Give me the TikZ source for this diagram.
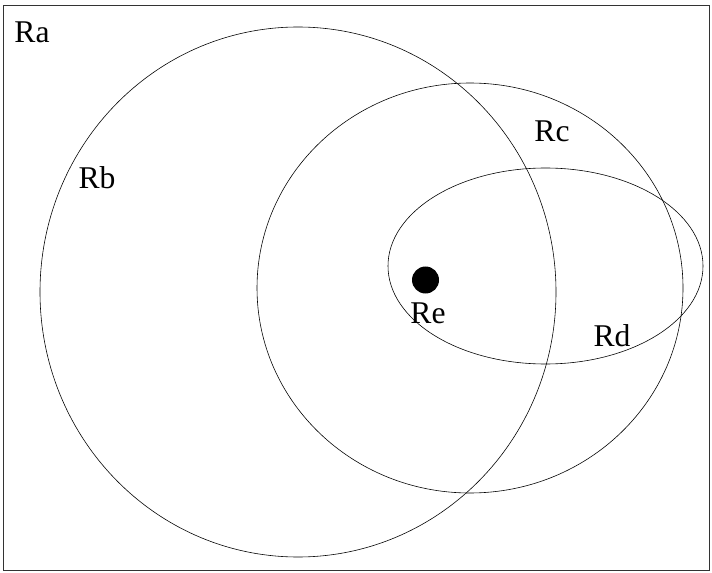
\documentclass[tikz,border=0pt]{standalone}
\usepackage{fontspec}
\setmainfont{Liberation Serif}
\usepackage{tikz}
\usetikzlibrary{positioning}

\begin{document}
\begin{tikzpicture}[
    x=0.03cm, y=-0.03cm,
    region/.style={draw, line width=0.5pt},
    lbl/.style={font=\fontsize{27}{30}\selectfont, inner sep=0pt, anchor=center},
]
\useasboundingbox (0,0) rectangle (712,573);

% Universe
\draw[line width=0.6pt, black!80] (3,5) rectangle (709,570);
\node[lbl] (ra) at (32,32) {Ra};

% Regions
\draw[region] (298,292) ellipse [x radius=258, y radius=265];
\draw[region] (470,288) ellipse [x radius=213, y radius=205];
\draw[region] (545.5,266) ellipse [x radius=157.5, y radius=98];

% Point
\fill (425.5,280) circle [radius=13.5];

% Labels
\node[lbl] (rb) at (97,178) {Rb};
\node[lbl] (rc) at (552,131) {Rc};
\node[lbl] (rd) at (612,336) {Rd};
\node[lbl] (re) at (428,313) {Re};
\end{tikzpicture}
\end{document}
